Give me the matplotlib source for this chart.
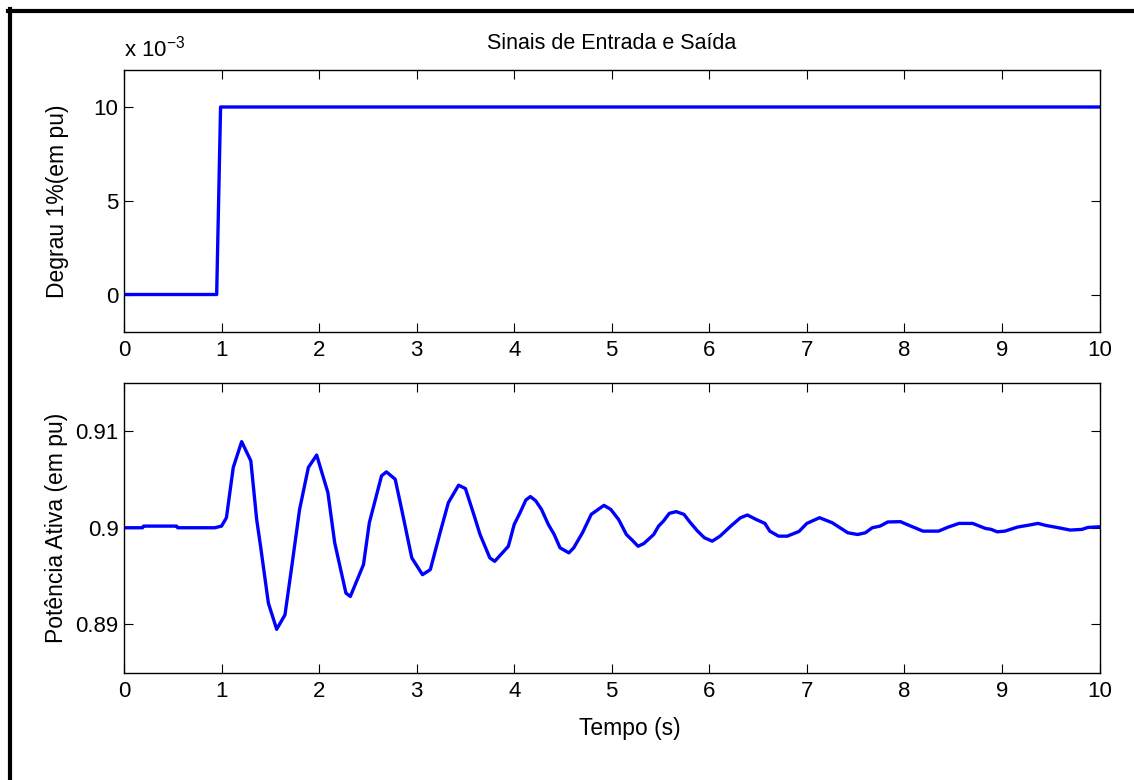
import matplotlib
matplotlib.use("Agg")
import matplotlib.pyplot as plt
from matplotlib.lines import Line2D
from matplotlib.ticker import FuncFormatter


# degrau de entrada (pu)
t_step = [0.0, 0.95, 0.99, 10.0]
u_step = [0.0, 0.0, 0.01, 0.01]

# potencia ativa
t_pot = [0.0, 0.19, 0.2, 0.54, 0.55, 0.93, 1.0, 1.05, 1.12, 1.206, 1.30, 1.36,
         1.40, 1.48, 1.565, 1.65, 1.72, 1.80, 1.89, 1.975, 2.09, 2.16, 2.275,
         2.32, 2.455, 2.515, 2.64, 2.69, 2.78, 2.85, 2.95, 3.06, 3.14, 3.24,
         3.325, 3.43, 3.50, 3.58, 3.65, 3.75, 3.80, 3.94, 4.0, 4.06, 4.12,
         4.166, 4.22, 4.28, 4.35, 4.41, 4.47, 4.56, 4.61, 4.70, 4.79, 4.92,
         4.99, 5.07, 5.15, 5.21, 5.27, 5.33, 5.43, 5.48, 5.53, 5.59, 5.66,
         5.74, 5.80, 5.88, 5.95, 6.03, 6.11, 6.22, 6.32, 6.39, 6.48, 6.57,
         6.62, 6.71, 6.80, 6.92, 7.00, 7.13, 7.26, 7.34, 7.42, 7.52, 7.60,
         7.67, 7.75, 7.83, 7.96, 8.04, 8.19, 8.35, 8.45, 8.56, 8.70, 8.83,
         8.89, 8.95, 9.03, 9.16, 9.28, 9.37, 9.45, 9.58, 9.70, 9.82, 9.88,
         10.0]
p_pot = [0.9, 0.9, 0.90017, 0.90017, 0.9, 0.9, 0.90017, 0.90104, 0.90625,
         0.90892, 0.90694, 0.90086, 0.89808, 0.89219, 0.88948, 0.89097,
         0.896, 0.9019, 0.90625, 0.90753, 0.90365, 0.89844, 0.89323, 0.89288,
         0.89618, 0.90052, 0.90538, 0.90579, 0.90503, 0.90173, 0.89688,
         0.89514, 0.89566, 0.89948, 0.9026, 0.90441, 0.90406, 0.90156,
         0.8993, 0.89688, 0.89652, 0.89808, 0.90034, 0.90156, 0.90288,
         0.90323, 0.9028, 0.9019, 0.90034, 0.8993, 0.89792, 0.8974, 0.89792,
         0.89948, 0.90139, 0.90232, 0.9019, 0.90086, 0.8993, 0.89871,
         0.89808, 0.89837, 0.8993, 0.90017, 0.90069, 0.90149, 0.90167,
         0.90139, 0.9006, 0.89965, 0.89896, 0.89861, 0.89913, 0.90017,
         0.90104, 0.90132, 0.90086, 0.90045, 0.89965, 0.89913, 0.89913,
         0.89962, 0.90045, 0.90104, 0.90052, 0.9, 0.89948, 0.8993, 0.89948,
         0.9, 0.90017, 0.9006, 0.90063, 0.90028, 0.89965, 0.89965, 0.90007,
         0.90045, 0.90045, 0.89993, 0.89983, 0.89958, 0.89965, 0.90007,
         0.90028, 0.90045, 0.90024, 0.9, 0.89976, 0.89983, 0.90003, 0.9001]

x_ticks = list(range(0, 11))
step_ticks = [0.0, 0.005, 0.01]
pot_ticks = [0.89, 0.9, 0.91]

plt.rcParams["font.family"] = ["Liberation Sans", "DejaVu Sans"]
plt.rcParams["font.size"] = 16

W, H = 1134, 780
fig = plt.figure(figsize=(W / 100, H / 100), dpi=100)

ax1 = fig.add_axes([124 / W, 1 - 332 / H, 975.5 / W, 262.5 / H])
ax2 = fig.add_axes([124 / W, 1 - 672.5 / H, 975.5 / W, 289.5 / H])

blue = "#0000ff"
ax1.plot(t_step, u_step, color=blue, linewidth=2.4)
ax2.plot(t_pot, p_pot, color=blue, linewidth=2.4)

for ax in (ax1, ax2):
    ax.set_xlim(0, 10)
    ax.set_xticks(x_ticks)
    ax.tick_params(direction="in", length=6.5, width=0.8, top=True, right=True,
                   labelsize=16, colors="black")
    ax.tick_params(axis="x", pad=6)
    ax.tick_params(axis="y", pad=4)
    for s in ax.spines.values():
        s.set_linewidth(1.0)

ax1.set_ylim(-0.002, 0.012)
ax1.set_yticks(step_ticks)
ax1.yaxis.set_major_formatter(FuncFormatter(lambda v, p: f"{v * 1000:g}"))
ax1.annotate("x 10$^{\\mathregular{-3}}$", xy=(0, 1), xycoords="axes fraction",
             xytext=(0, 9), textcoords="offset points", ha="left", va="baseline",
             fontsize=16)
ax1.set_title("Sinais de Entrada e Saída", fontsize=15.5, pad=15)
ax1.set_ylabel("Degrau 1%(em pu)", fontsize=16.5)
ax1.yaxis.set_label_coords(-0.056, 0.5)

ax2.set_ylim(0.885, 0.915)
ax2.set_yticks(pot_ticks)
ax2.yaxis.set_major_formatter(FuncFormatter(lambda v, p: f"{v:g}"))
ax2.set_ylabel("Potência Ativa (em pu)", fontsize=16.5)
ax2.yaxis.set_label_coords(-0.057, 0.5)
ax2.set_xlabel("Tempo (s)", fontsize=16.5)
ax2.xaxis.set_label_coords(0.5187, -0.216)
ax2.xaxis.label.set_va("baseline")

# moldura preta (recorte de tela)
fig.add_artist(Line2D([8 / W, 1.0], [1 - 11 / H, 1 - 11 / H], color="black",
                      linewidth=3, transform=fig.transFigure))
fig.add_artist(Line2D([10.3 / W, 10.3 / W], [0.0, 1 - 9 / H], color="black",
                      linewidth=3, transform=fig.transFigure))

fig.savefig("out.png", dpi=100)
